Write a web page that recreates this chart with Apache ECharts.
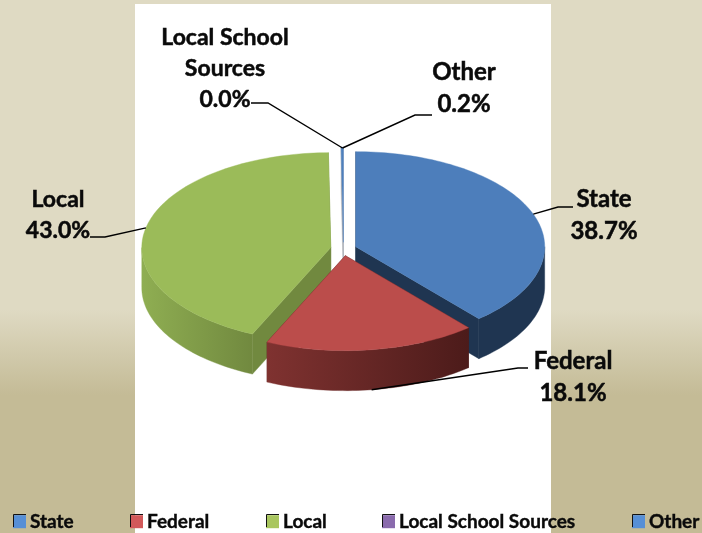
<!DOCTYPE html>
<html>
<head>
<meta charset="utf-8">
<style>html,body{margin:0;padding:0;background:#dfdac3}#chart{width:702px;height:533px}</style>
<script src="https://cdn.jsdelivr.net/npm/echarts@6/dist/echarts.min.js"></script>
</head>
<body>
<div id="chart"></div>
<script>
// Revenue share by source
const categories = ['State', 'Federal', 'Local', 'Local School Sources', 'Other'];
const shares = [38.7, 18.1, 43.0, 0.0, 0.2];

// Top, rim (left to right) and cut-face colours for each slice
const topColors = ['#4d7ebb', '#bb4d4b', '#9bbb59', '#8064a2', '#4f81bd'];
const rimColors = [
  ['#1f3551', '#1f3551'], ['#7f3230', '#4c1b1a'], ['#8fae52', '#71893f'],
  ['#4d3b62', '#4d3b62'], ['#1f3551', '#1f3551']
];
const faceColors = ['#1f3551', '#4c1b1a', '#71893f', '#4d3b62', '#a9adb5'];
const legendColors = ['#568fd6', '#d2595a', '#a9c65f', '#8a6bad', '#568fd6'];

// Label layout: text centre, wrap, size, line height and the leader line's outer points
const labelNames = ['State', 'Federal', 'Local', 'Local School\nSources', 'Other'];
const labelCenters = [[604, 215], [573, 377], [58, 215], [225, 68.5], [464, 88]];
const labelSizes = [24, 24, 23, 23, 24];
const labelLeading = [32, 32, 31, 31, 32];
const leaderElbows = [
  [[573, 207], [558, 207]], [[528, 368], [518, 368]], [[90, 237], [105, 237]],
  [[251, 103], [268, 103]], [[432, 115], [415, 115]]
];
// Angle (degrees, clockwise from 12 o'clock) where each leader meets its slice
const leaderAngles = [70, 172, 282, null, null];
const legendLefts = [13, 130, 266, 382, 632];

// Pie projection: ellipse radii, extrusion depth and explode distance
const cx = 343.5, cy = 249, rx = 189, ry = 95, depth = 40, ex = 13, ey = 6.7;
const rad = d => d * Math.PI / 180;

const total = shares.reduce((a, b) => a + b, 0);
const starts = [];
shares.reduce((acc, v, i) => { starts[i] = acc; return acc + v / total * 360; }, 0);

function slicePoint(i, deg, drop) {
  const mid = rad(starts[i] + shares[i] / total * 180);
  return [
    cx + ex * Math.sin(mid) + rx * Math.sin(rad(deg)),
    cy - ey * Math.cos(mid) - ry * Math.cos(rad(deg)) + drop
  ];
}
function apex(i, drop) {
  const mid = rad(starts[i] + shares[i] / total * 180);
  return [cx + ex * Math.sin(mid), cy - ey * Math.cos(mid) + drop];
}
function arc(i, from, to, drop) {
  const pts = [];
  const n = Math.max(1, Math.ceil(Math.abs(to - from) / 1.5));
  for (let k = 0; k <= n; k++) pts.push(slicePoint(i, from + (to - from) * k / n, drop));
  return pts;
}
const poly = (points, fill, z2) => ({
  type: 'polygon', z2, shape: { points },
  style: { fill, stroke: fill, lineWidth: 0.4 }
});

function renderSlice(params, api) {
  const i = params.seriesIndex;
  const value = api.value(0);
  const start = starts[i], end = start + value / total * 360;
  const children = [];

  if (value > 0) {
    // Cut faces along both radial edges
    [start, end].forEach(a => {
      children.push(poly([apex(i, 0), slicePoint(i, a, 0), slicePoint(i, a, depth), apex(i, depth)], faceColors[i], 1));
    });
    // Outer rim, only where it faces the viewer
    const from = Math.max(start, 90), to = Math.min(end, 270);
    if (to > from) {
      const upper = arc(i, from, to, 0), lower = arc(i, to, from, depth);
      children.push(poly(upper.concat(lower), new echarts.graphic.LinearGradient(0, 0, 1, 0, [
        { offset: 0, color: rimColors[i][0] },
        { offset: 1, color: rimColors[i][1] }
      ]), 2));
    }
    // Top surface
    children.push(poly([apex(i, 0)].concat(arc(i, start, end, 0)), topColors[i], 3));
  }

  // Leader line and value label
  const anchor = leaderAngles[i] === null ? [342.5, 148] : slicePoint(i, leaderAngles[i], i === 1 ? depth : 0);
  children.push({
    type: 'polyline', z2: 4,
    shape: { points: [leaderElbows[i][0], leaderElbows[i][1], anchor] },
    style: { fill: 'none', stroke: '#000', lineWidth: 1.4 }
  });
  children.push({
    type: 'text', z2: 5,
    x: labelCenters[i][0], y: labelCenters[i][1],
    style: {
      text: labelNames[i] + '\n' + value.toFixed(1) + '%',
      fill: '#0a0a0a', stroke: '#0a0a0a', lineWidth: 0.5,
      align: 'center', verticalAlign: 'middle',
      font: '700 ' + labelSizes[i] + 'px Lato', lineHeight: labelLeading[i]
    }
  });
  return { type: 'group', children };
}

// Paint back slices first
const paintZ = shares.map((v, i) => -Math.cos(rad(starts[i] + v / total * 180)));

const option = {
  animation: false,
  backgroundColor: new echarts.graphic.LinearGradient(0, 0, 0, 1, [
    { offset: 0, color: '#dfdac3' },
    { offset: 310 / 533, color: '#dfdac3' },
    { offset: 395 / 533, color: '#c4bb96' },
    { offset: 1, color: '#c4bb96' }
  ]),
  graphic: [
    { type: 'rect', z: -10, silent: true, shape: { x: 135, y: 4, width: 416, height: 529 }, style: { fill: '#fff' } },
    ...legendLefts.map(x => ({
      type: 'polyline', z: 100, silent: true,
      shape: { points: [[x + 0.5, 527], [x + 0.5, 514.5], [x + 13, 514.5]] },
      style: { fill: 'none', stroke: '#111', lineWidth: 1 }
    }))
  ],
  legend: categories.map((name, i) => ({
    data: [{ name, itemStyle: { color: legendColors[i] } }],
    left: legendLefts[i], top: 512,
    itemWidth: 13, itemHeight: 13, itemGap: 0,
    icon: 'rect', selectedMode: false, padding: 0,
    textStyle: {
      color: '#0a0a0a', fontFamily: 'Lato', fontWeight: 700, fontSize: 19,
      textBorderColor: '#0a0a0a', textBorderWidth: 0.4, padding: [0, 0, 0, -1]
    }
  })),
  series: categories.map((name, i) => ({
    type: 'custom', name, z: 3 + paintZ[i], silent: true,
    coordinateSystem: 'none',
    itemStyle: { color: topColors[i] },
    data: [[shares[i]]],
    renderItem: renderSlice
  }))
};

echarts.init(document.getElementById('chart'), null, { renderer: 'canvas' }).setOption(option);
</script>
</body>
</html>
